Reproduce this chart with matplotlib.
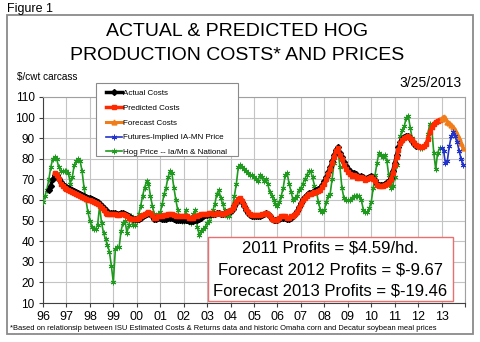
import numpy as np
import pandas as pd
import matplotlib
matplotlib.use('Agg')
import matplotlib.pyplot as plt
from matplotlib.patches import Rectangle

plt.rcParams['font.family'] = ['Liberation Sans', 'DejaVu Sans']

# monthly hog price, Jan 1996 - Dec 2012 ($/cwt carcass)
hog_price = [
    59, 62, 65, 70, 76, 80, 81, 80, 76, 74, 74, 74,
    74, 73, 68, 71, 77, 79, 80, 79, 74, 66, 60, 54,
    50, 47, 46, 46, 48, 57, 49, 44, 41, 38, 35, 28,
    20, 36, 37, 37, 45, 49, 50, 44, 48, 52, 48, 48,
    50, 53, 57, 62, 66, 69, 68, 62, 57, 53, 52, 53,
    54, 58, 63, 66, 71, 74, 73, 66, 60, 55, 51, 50,
    50, 55, 52, 50, 49, 53, 55, 47, 43, 45, 46, 47,
    49, 50, 52, 55, 58, 63, 65, 61, 58, 55, 52, 52,
    54, 57, 62, 68, 76, 77, 76, 75, 74, 73, 72, 72,
    71, 70, 69, 72, 71, 69, 70, 68, 64, 62, 60, 58,
    57, 59, 62, 66, 72, 73, 68, 64, 60, 61, 62, 65,
    66, 68, 70, 72, 74, 74, 71, 67, 64, 59, 55, 54,
    55, 59, 62, 63, 70, 78, 83, 84, 76, 66, 61, 60,
    60, 60, 61, 62, 62, 62, 62, 60, 55, 54, 54, 56,
    59, 66, 72, 78, 83, 82, 81, 82, 79, 72, 66, 67,
    71, 77, 84, 91, 94, 96, 100, 101, 95, 90, 88, 86,
    86, 85, 85, 86, 87, 92, 97, 95, 83, 75, 83, 85,
]

# actual costs, Apr 1996 - Dec 2011
actual_costs = [
    65, 67, 70, 72, 72, 70, 68.5, 67.5, 67,
    66.5, 66, 65.5, 65, 64.5, 64, 63.5, 63, 62.5, 62, 61.5, 61,
    61, 60.5, 60, 59.5, 59, 58, 57, 56, 55, 54, 53.5, 53.5,
    53.5, 53.5, 53, 53, 53.5, 53.5, 53, 52.5, 52, 51.5, 51, 51,
    51, 51, 51.5, 52, 52.5, 53, 53.5, 53, 52, 51, 51, 51.5,
    51.5, 51, 51, 51, 51.5, 51.5, 51.5, 51, 50.5, 50.5, 50.5, 50.5,
    50.5, 50.5, 50.5, 50, 50, 50, 50.5, 50.5, 51, 51.5, 52, 52.5,
    52.5, 53, 53, 53, 53, 53.5, 53.5, 53, 53, 53.5, 54, 54.5,
    54.5, 55.5, 57, 58.5, 60, 60.5, 59, 57, 55, 53.5, 52.5, 52,
    52, 52, 52, 52, 52.5, 53, 53.5, 53, 52, 51, 50.5, 50.5,
    50.5, 51, 51.5, 51.5, 51.5, 51, 51, 51.5, 52, 53, 54.5, 56.5,
    58.5, 60.5, 61.5, 62.5, 63.5, 63.5, 64, 64.5, 65, 65.5, 66, 67.5,
    69, 71, 73.5, 76, 79, 82, 84.5, 85.5, 83, 81, 78.5, 76.5,
    75, 74, 73, 73, 72.5, 71.5, 71, 71.5, 71, 70, 70.5, 71,
    71.5, 70.5, 69.5, 68, 67.5, 67.5, 67.5, 68, 68.5, 69, 70.5, 74,
    78, 82, 85.5, 88, 89.5, 90.5, 91, 91, 90, 88.5, 87, 86,
]

# predicted costs, Jul 1996 - Dec 2012
predicted_costs = [
    73, 72, 70, 68, 67, 66,
    65.5, 65, 64.5, 64, 63.5, 63, 62.5, 62, 61.5, 61, 60.5, 60,
    60, 59.5, 59, 58.5, 58, 57, 56, 55, 53.5, 53, 53, 53,
    53, 53, 52.5, 52.5, 53, 53, 52.5, 52, 51.5, 51, 51, 51,
    51, 51.5, 52, 52.5, 53, 53.5, 54, 53.5, 52.5, 51.5, 51.5, 52,
    52, 52, 52.5, 52.5, 53, 53, 53, 52.5, 52, 52, 52, 52,
    52, 52, 52, 51.5, 51.5, 51.5, 52, 52, 52.5, 53, 53, 53,
    53, 53.5, 53.5, 53, 53, 53.5, 53.5, 53, 53, 53.5, 54, 54.5,
    55, 56, 57.5, 59, 60.5, 61, 59.5, 57.5, 55.5, 54, 53, 52.5,
    52.5, 52.5, 52.5, 52.5, 53, 53, 53.5, 53, 52, 51, 50.5, 50.5,
    50.5, 51.5, 52, 52, 52, 51.5, 51.5, 52, 52, 53, 54, 56,
    58, 60, 61, 62, 63, 63, 63.5, 64, 64, 64.5, 65, 66.5,
    68, 70, 72.5, 75, 78, 81, 84, 85, 82, 80, 77, 75,
    73.5, 72.5, 71.5, 72, 71.5, 70.5, 70.5, 71, 70.5, 69.5, 70, 70.5,
    71, 70, 69, 67.5, 67, 67, 67, 67.5, 68, 68.5, 70, 73,
    77, 81, 84.5, 87.5, 89, 90, 90.5, 91, 90, 89, 87.5, 86.5,
    86, 85.5, 85.5, 86, 87, 89.5, 93, 95.5, 97, 98, 98.5, 99,
]

# 2013 forecast costs and futures-implied price, Jan - Dec 2013
forecast_costs = [99.5, 100.5, 100, 98, 97.5, 96.5, 95.5, 94, 92, 90, 87.5, 85]
futures_price = [85, 84, 78, 79, 86, 91, 93, 91, 88, 84, 80, 77]

years = list(range(1996, 2014))
year_labels = ['%02d' % (y % 100) for y in years]

hog_dates = pd.date_range('1996-01-01', periods=len(hog_price), freq='MS')
act_dates = pd.date_range('1996-04-01', periods=len(actual_costs), freq='MS')
pred_dates = pd.date_range('1996-07-01', periods=len(predicted_costs), freq='MS')
fc_dates = pd.date_range('2013-01-01', periods=len(forecast_costs), freq='MS')
fut_dates = pd.date_range('2013-01-01', periods=len(futures_price), freq='MS')

W, H = 480, 342
fig = plt.figure(figsize=(4.8, 3.42), dpi=100)
ax = fig.add_axes([43 / W, 1 - 303 / H, (465 - 43) / W, (303 - 97) / H])

green = '#1f9a1f'
ax.plot(hog_dates, hog_price, color=green, lw=1.2, marker=(6, 2, 0), ms=4,
        mew=0.7, label='Hog Price -- Ia/Mn & National', zorder=3)
ax.plot(act_dates, actual_costs, color='black', lw=2.5, marker='D', ms=3,
        label='Actual Costs', zorder=4)
ax.plot(pred_dates, predicted_costs, color='#ff2a00', lw=2.5, marker='s', ms=3,
        label='Predicted Costs', zorder=5)
ax.plot(fc_dates, forecast_costs, color='#f07d1a', lw=2.2, marker='^', ms=3.5,
        label='Forecast Costs', zorder=5)
ax.plot(fut_dates, futures_price, color='#2233cc', lw=1.2, marker=(6, 2, 0), ms=4,
        mew=0.7, label='Futures-Implied IA-MN Price', zorder=5)

ax.set_ylim(10, 110)
ax.set_yticks(range(10, 111, 10))
ax.set_xlim(pd.Timestamp('1996-01-01'), pd.Timestamp('2014-01-01'))
ticks = pd.date_range('1996-01-01', '2014-01-01', freq='YS')
ax.set_xticks(ticks)
ax.set_xticklabels(year_labels + [''])
ax.tick_params(axis='x', labelsize=9, length=3, pad=3, color='#404040')
ax.tick_params(axis='y', labelsize=8.5, length=3, pad=3, color='#404040')
ax.grid(True, color='#c4c4c4', lw=0.8)
ax.set_axisbelow(True)
for side in ['top', 'right']:
    ax.spines[side].set_color('#a0a0a0')
for side in ['left', 'bottom']:
    ax.spines[side].set_color('#404040')

# outer frame
fig.patches.append(Rectangle((7 / W, 1 - 334 / H), 466 / W, 319 / H,
                             transform=fig.transFigure, fill=False,
                             ec='#8a8a8a', lw=1.3))

fig.text(7 / W, 1 - 9 / H, 'Figure 1', fontsize=9, va='center', ha='left')
fig.text(237 / W, 1 - 32 / H, 'ACTUAL & PREDICTED HOG', fontsize=14,
         ha='center', va='center')
fig.text(237 / W, 1 - 55 / H, 'PRODUCTION COSTS* AND PRICES', fontsize=14,
         ha='center', va='center')
fig.text(17 / W, 1 - 77 / H, '$/cwt carcass', fontsize=7.2, ha='left', va='center')
fig.text(462 / W, 1 - 83 / H, '3/25/2013', fontsize=10, ha='right', va='center')
fig.text(10 / W, 1 - 329 / H,
         '*Based on relationsip between ISU Estimated Costs & Returns data and '
         'historic Omaha corn and Decatur soybean meal prices',
         fontsize=5.45, ha='left', va='center')

# legend box
fig.patches.append(Rectangle((96 / W, 1 - 156 / H), 142 / W, 73 / H,
                             transform=fig.transFigure, fc='white',
                             ec='#8a8a8a', lw=0.8, zorder=6))
h, l = ax.get_legend_handles_labels()
order = [1, 2, 3, 4, 0]
leg = fig.legend([h[i] for i in order], [l[i] for i in order],
                 loc='upper left', bbox_to_anchor=(100 / W, 1 - 84 / H),
                 frameon=False, fontsize=5.8, handlelength=2.0,
                 handletextpad=0.1, labelspacing=0.88, borderpad=0.2)
leg.set_zorder(7)

# profit summary box
fig.patches.append(Rectangle((208 / W, 1 - 301 / H), 245 / W, 64 / H,
                             transform=fig.transFigure, fc='white',
                             ec='#e87070', lw=1.0, zorder=6))
profit_lines = ['2011 Profits = $4.59/hd.',
                'Forecast 2012 Profits = $-9.67',
                'Forecast 2013 Profits = $-19.46']
for i, s in enumerate(profit_lines):
    fig.text(330 / W, 1 - (248 + 21.5 * i) / H, s, fontsize=12,
             ha='center', va='center', zorder=7)

fig.savefig('out.png', dpi=100)
